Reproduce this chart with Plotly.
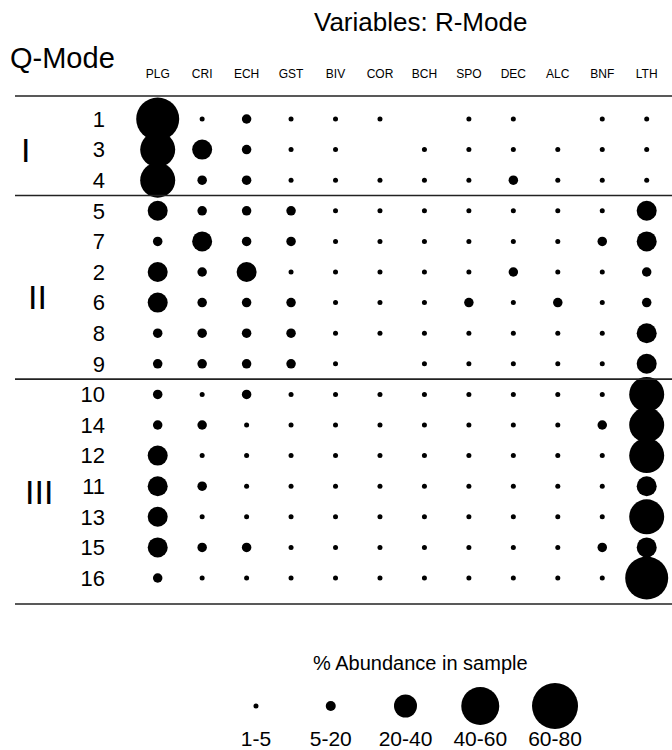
import plotly.graph_objects as go

# ---------------- data ----------------
variables = ["PLG", "CRI", "ECH", "GST", "BIV", "COR", "BCH", "SPO", "DEC", "ALC", "BNF", "LTH"]
samples = ["1", "3", "4", "5", "7", "2", "6", "8", "9", "10", "14", "12", "11", "13", "15", "16"]
group_names = ["I", "II", "III"]
group_sizes = [3, 6, 7]

# abundance class per cell: 0 = absent, 1 = 1-5, 2 = 5-20, 3 = 20-40, 4 = 40-60, 5 = 60-80
abundance_class = [
    [5, 1, 2, 1, 1, 1, 0, 1, 1, 0, 1, 1],  # 1
    [4, 3, 2, 1, 1, 0, 1, 1, 1, 1, 1, 1],  # 3
    [4, 2, 2, 1, 1, 1, 1, 1, 2, 1, 1, 1],  # 4
    [3, 2, 2, 2, 1, 1, 1, 1, 1, 1, 1, 3],  # 5
    [2, 3, 2, 2, 1, 1, 1, 1, 1, 1, 2, 3],  # 7
    [3, 2, 3, 1, 1, 1, 1, 1, 2, 1, 1, 2],  # 2
    [3, 2, 2, 2, 1, 1, 1, 2, 1, 2, 1, 2],  # 6
    [2, 2, 2, 2, 1, 1, 1, 1, 1, 1, 1, 3],  # 8
    [2, 2, 2, 2, 1, 0, 1, 1, 1, 1, 1, 3],  # 9
    [2, 1, 2, 1, 1, 1, 1, 1, 1, 1, 1, 4],  # 10
    [2, 2, 1, 1, 1, 1, 1, 1, 1, 1, 2, 4],  # 14
    [3, 1, 1, 1, 1, 1, 1, 1, 1, 1, 1, 4],  # 12
    [3, 2, 1, 1, 1, 1, 1, 1, 1, 1, 1, 3],  # 11
    [3, 1, 1, 1, 1, 1, 1, 1, 1, 1, 1, 4],  # 13
    [3, 2, 2, 1, 1, 1, 1, 1, 1, 1, 2, 3],  # 15
    [2, 1, 1, 1, 1, 1, 1, 1, 1, 1, 1, 5],  # 16
]
legend_labels = ["1-5", "5-20", "20-40", "40-60", "60-80"]
legend_classes = [1, 2, 3, 4, 5]

# ---------------- styling ----------------
FONT = "Liberation Sans, Arial, Helvetica, sans-serif"
grid_size = {1: 5, 2: 9.5, 3: 20, 4: 35, 5: 43}
legend_size = {1: 5, 2: 10, 3: 23, 4: 38, 5: 46}

W, H = 672, 750
L = 110
plot_w = W - L

xs, ys, ss = [], [], []
for r, row in enumerate(abundance_class):
    for c, cls in enumerate(row):
        if cls > 0:
            xs.append(variables[c])
            ys.append(samples[r])
            ss.append(grid_size[cls])

fig = go.Figure()
fig.add_trace(go.Scatter(
    x=xs, y=ys, mode="markers",
    marker=dict(size=ss, color="#000000", opacity=1, line=dict(width=0)),
    cliponaxis=False, showlegend=False, hoverinfo="x+y",
    xaxis="x", yaxis="y",
))
fig.add_trace(go.Scatter(
    x=legend_labels, y=[0] * len(legend_labels), mode="markers",
    marker=dict(size=[legend_size[c] for c in legend_classes], color="#000000",
                opacity=1, line=dict(width=0)),
    cliponaxis=False, showlegend=False, hoverinfo="x",
    xaxis="x2", yaxis="y2",
))

# main axis geometry (pixels)
col0_px, coln_px = 157.7, 646.7
col_step = (coln_px - col0_px) / (len(variables) - 1)
x_left = -(col0_px - L) / col_step
x_right = x_left + plot_w / col_step

top_px, bot_px = 90, 612
row0_px, rown_px = 119, 578
row_step = (rown_px - row0_px) / (len(samples) - 1)
y_top = -(row0_px - top_px) / row_step
y_bot = y_top + (bot_px - top_px) / row_step

fig.update_layout(
    width=W, height=H,
    margin=dict(l=L, r=0, t=0, b=0, autoexpand=False),
    paper_bgcolor="white", plot_bgcolor="white",
    font=dict(family=FONT, color="#000000"),
    xaxis=dict(type="category", categoryarray=variables, side="top",
               range=[x_left, x_right], domain=[0, 1], anchor="y",
               showgrid=False, zeroline=False, showline=False, ticks="",
               tickfont=dict(size=12, color="#000000"), ticklabelstandoff=9),
    yaxis=dict(type="category", categoryarray=samples,
               range=[y_bot, y_top],
               domain=[(H - bot_px) / H, (H - top_px) / H], anchor="x",
               showgrid=False, zeroline=False, showline=False, ticks="",
               tickfont=dict(size=22, color="#000000"), ticklabelstandoff=4),
    xaxis2=dict(type="category", categoryarray=legend_labels,
                range=[-0.5, len(legend_labels) - 0.5],
                domain=[(218.6 - L) / plot_w, (592.4 - L) / plot_w], anchor="y2",
                showgrid=False, zeroline=False, showline=False, ticks="",
                tickfont=dict(size=21, color="#000000"), ticklabelstandoff=2),
    yaxis2=dict(range=[-1, 1], domain=[(H - 722) / H, (H - 690) / H],
                anchor="x2", visible=False),
)

# horizontal separator lines from group sizes
bounds = [-0.75]
acc = 0
for g in group_sizes:
    acc += g
    bounds.append(acc - 0.5)
bounds[-1] = acc - 1 + 0.85
for b in bounds:
    fig.add_shape(type="line", xref="paper", yref="y",
                  x0=(15 - L) / plot_w, x1=1, y0=b, y1=b,
                  line=dict(color="#222222", width=1.6))

# group labels (roman numerals)
group_x_px = [25, 37, 39]
group_yshift = [0, -10, -6]
start = 0
for name, g, gx, gs in zip(group_names, group_sizes, group_x_px, group_yshift):
    center = start + (g - 1) / 2
    fig.add_annotation(text=name, xref="paper", yref="y",
                       x=(gx - L) / plot_w, y=center, showarrow=False,
                       xanchor="center", yanchor="middle", yshift=gs,
                       font=dict(size=34, family=FONT, color="#000000"))
    start += g

fig.add_annotation(text="Variables: R-Mode", xref="paper", yref="paper",
                   x=(420 - L) / plot_w, y=(H - 22) / H, showarrow=False,
                   xanchor="center", yanchor="middle", font=dict(size=26))
fig.add_annotation(text="Q-Mode", xref="paper", yref="paper",
                   x=(8 - L) / plot_w, y=(H - 58) / H, showarrow=False,
                   xanchor="left", yanchor="middle", font=dict(size=29))
fig.add_annotation(text="% Abundance in sample", xref="paper", yref="paper",
                   x=(420 - L) / plot_w, y=(H - 663) / H, showarrow=False,
                   xanchor="center", yanchor="middle", font=dict(size=20))

fig.write_html("out.html", config={"displayModeBar": False},
               post_script="document.body.style.margin='0';document.body.style.overflow='hidden';")
